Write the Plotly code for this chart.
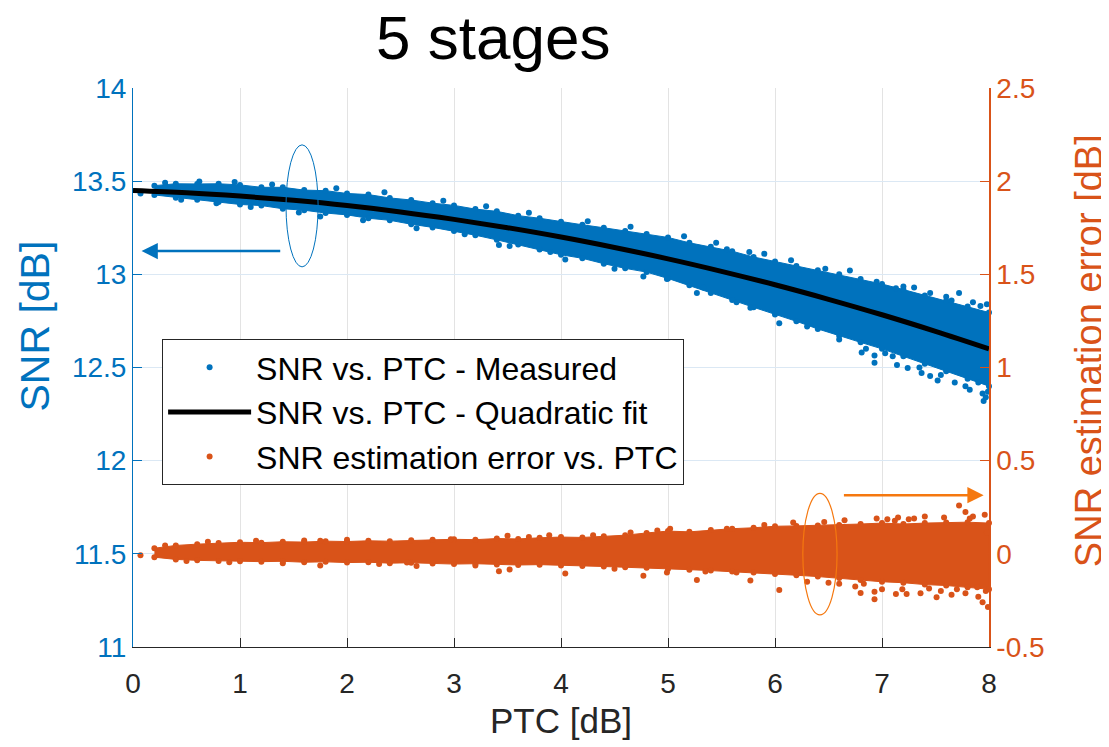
import plotly.graph_objects as go

# ---------------- data ----------------
# envelope positions of the dense point clouds (PTC, dB)
ptc_env = [0.2, 0.4, 0.6, 0.8, 1.0, 1.2, 1.4, 1.6, 1.8, 2.0,
           2.2, 2.4, 2.6, 2.8, 3.0, 3.2, 3.4, 3.6, 3.8, 4.0,
           4.2, 4.4, 4.6, 4.8, 5.0, 5.2, 5.4, 5.6, 5.8, 6.0,
           6.2, 6.4, 6.6, 6.8, 7.0, 7.2, 7.4, 7.6, 7.8, 8.0]

# measured SNR cloud: upper / lower edge of the dense band (dB)
snr_upper = [13.476, 13.486, 13.485, 13.486, 13.480, 13.467, 13.467, 13.452, 13.449, 13.434,
             13.428, 13.410, 13.399, 13.382, 13.370, 13.350, 13.338, 13.315, 13.301, 13.282,
             13.266, 13.250, 13.232, 13.216, 13.198, 13.169, 13.148, 13.124, 13.093, 13.069,
             13.045, 13.022, 13.000, 12.975, 12.948, 12.918, 12.887, 12.858, 12.828, 12.795]
snr_lower = [13.426, 13.411, 13.400, 13.388, 13.375, 13.369, 13.352, 13.344, 13.329, 13.319,
             13.301, 13.290, 13.269, 13.252, 13.233, 13.210, 13.185, 13.160, 13.133, 13.105,
             13.086, 13.057, 13.032, 13.012, 12.978, 12.942, 12.900, 12.862, 12.823, 12.784,
             12.748, 12.707, 12.670, 12.635, 12.600, 12.560, 12.520, 12.480, 12.440, 12.400]

# scattered measured points outside the dense band
snr_pts_x = [0.07, 0.3, 0.45, 0.62, 0.78, 0.95, 1.1, 1.3, 1.55, 1.75,
             1.9, 2.15, 2.35, 2.65, 2.9, 3.1, 3.3, 3.42, 3.52, 3.7,
             3.9, 4.04, 4.25, 4.5, 4.65, 4.77, 4.99, 5.15, 5.27, 5.33,
             5.45, 5.55, 5.64, 5.76, 5.77, 5.9, 6.04, 6.15, 6.3, 6.47,
             6.6, 6.7, 6.81, 6.93, 6.93, 7.03, 7.13, 7.14, 7.24, 7.3,
             7.37, 7.45, 7.52, 7.6, 7.72, 7.78, 7.85, 7.94, 7.95, 7.98,
             7.1, 7.35, 7.55, 7.68, 7.82, 7.9, 7.97, 7.99, 7.65, 7.92,
             6.95, 7.2, 6.85, 7.45]
snr_pts_y = [13.434, 13.492, 13.400, 13.498, 13.382, 13.495, 13.362, 13.482, 13.332, 13.310,
             13.462, 13.290, 13.440, 13.247, 13.395, 13.215, 13.365, 13.157, 13.152, 13.330,
             13.120, 13.080, 13.285, 13.030, 13.255, 12.988, 12.975, 13.205, 12.900, 12.930,
             13.170, 13.134, 12.850, 13.120, 12.820, 13.110, 12.738, 13.075, 12.720, 13.030,
             12.650, 13.020, 12.580, 12.564, 12.525, 12.576, 12.925, 12.513, 12.497, 12.930,
             12.470, 12.900, 12.430, 12.880, 12.900, 12.400, 12.850, 12.360, 12.320, 12.840,
             12.560, 12.500, 12.460, 12.420, 12.380, 12.420, 12.340, 12.370, 12.860, 12.830,
             12.960, 12.935, 12.600, 12.455]

# quadratic fit of SNR vs PTC
fit_x = [0.0, 0.5, 1.0, 1.5, 2.0, 2.5, 3.0, 3.5, 4.0, 4.5, 5.0, 5.5, 6.0, 6.5, 7.0, 7.5, 8.0]
fit_y = [13.450, 13.438, 13.420, 13.397, 13.369, 13.335, 13.295, 13.250, 13.200,
         13.144, 13.083, 13.016, 12.944, 12.866, 12.783, 12.694, 12.600]

# SNR estimation error cloud: upper / lower edge of the dense band (dB)
err_upper = [0.030, 0.045, 0.052, 0.058, 0.062, 0.060, 0.065, 0.063, 0.068, 0.066,
             0.070, 0.068, 0.073, 0.075, 0.078, 0.076, 0.082, 0.080, 0.086, 0.090,
             0.088, 0.095, 0.100, 0.112, 0.122, 0.118, 0.128, 0.135, 0.140, 0.148,
             0.150, 0.152, 0.155, 0.160, 0.165, 0.160, 0.165, 0.168, 0.170, 0.165]
err_lower = [-0.018, -0.030, -0.035, -0.038, -0.040, -0.042, -0.040, -0.045, -0.043, -0.047,
             -0.045, -0.050, -0.048, -0.052, -0.055, -0.053, -0.057, -0.060, -0.058, -0.062,
             -0.065, -0.068, -0.072, -0.075, -0.082, -0.085, -0.090, -0.095, -0.100, -0.108,
             -0.115, -0.122, -0.130, -0.140, -0.150, -0.155, -0.165, -0.170, -0.180, -0.190]

err_pts_x = [0.07, 0.3, 0.5, 0.7, 0.9, 1.15, 1.4, 1.6, 1.75, 1.75,
             2.0, 2.3, 2.56, 2.65, 2.97, 3.2, 3.42, 3.5, 3.52, 3.7,
             3.89, 4.04, 4.3, 4.5, 4.65, 4.77, 4.9, 4.99, 5.02, 5.27,
             5.35, 5.55, 5.64, 5.77, 5.9, 6.04, 6.17, 6.3, 6.46, 6.6,
             6.8, 6.83, 6.93, 6.93, 7.05, 7.12, 7.13, 7.19, 7.23, 7.3,
             7.36, 7.44, 7.51, 7.58, 7.65, 7.72, 7.78, 7.78, 7.85, 7.89,
             7.94, 7.98, 7.99, 6.65, 6.75, 7.0, 7.15, 7.4, 7.55, 7.7,
             7.82, 7.9, 7.96, 7.97, 6.5, 6.95, 7.25]
err_pts_y = [-0.008, 0.045, -0.038, 0.065, -0.045, 0.070, -0.050, 0.072, 0.070, -0.062,
             0.075, -0.055, -0.047, -0.065, 0.078, -0.062, -0.093, 0.097, -0.084, 0.090,
             0.100, -0.105, 0.100, -0.080, 0.115, -0.117, 0.125, -0.100, 0.135, -0.140,
             -0.095, 0.135, -0.100, -0.143, 0.155, -0.194, 0.168, -0.150, 0.171, -0.160,
             -0.210, -0.160, -0.203, -0.244, 0.185, 0.177, -0.215, -0.190, -0.215, 0.190,
             -0.211, -0.186, -0.233, 0.195, -0.220, 0.260, 0.225, -0.211, 0.200, -0.180,
             -0.260, 0.115, -0.285, 0.180, -0.175, -0.190, 0.195, 0.200, -0.200, -0.190,
             0.190, -0.230, 0.210, -0.200, -0.155, 0.190, 0.185]

# tick labels
x_ticks = [0, 1, 2, 3, 4, 5, 6, 7, 8]
snr_ticks = [11, 11.5, 12, 12.5, 13, 13.5, 14]
snr_ticktext = ["11", "11.5", "12", "12.5", "13", "13.5", "14"]
err_ticks = [-0.5, 0, 0.5, 1, 1.5, 2, 2.5]
err_ticktext = ["-0.5", "0", "0.5", "1", "1.5", "2", "2.5"]

# ---------------- styling ----------------
BLUE = "#0072BD"
ORANGE = "#D95319"
ANNOT_ORANGE = "#F5780F"
DARK = "#262626"
FONT = "Liberation Sans, Arial, sans-serif"

fig = go.Figure()

# estimation error (right axis)
fig.add_trace(go.Scatter(
    x=ptc_env + ptc_env[::-1], y=err_upper + err_lower[::-1],
    mode="lines+markers", fill="toself", fillcolor=ORANGE,
    line=dict(color=ORANGE, width=1), marker=dict(color=ORANGE, size=6),
    yaxis="y2", showlegend=False, hoverinfo="skip", cliponaxis=False))
fig.add_trace(go.Scatter(
    x=err_pts_x, y=err_pts_y, mode="markers", yaxis="y2",
    marker=dict(color=ORANGE, size=6), name="SNR estimation error vs. PTC",
    legendrank=3, cliponaxis=False))

# measured SNR (left axis)
fig.add_trace(go.Scatter(
    x=ptc_env + ptc_env[::-1], y=snr_upper + snr_lower[::-1],
    mode="lines+markers", fill="toself", fillcolor=BLUE,
    line=dict(color=BLUE, width=1), marker=dict(color=BLUE, size=6),
    showlegend=False, hoverinfo="skip", cliponaxis=False))
fig.add_trace(go.Scatter(
    x=snr_pts_x, y=snr_pts_y, mode="markers",
    marker=dict(color=BLUE, size=6), name="SNR vs. PTC - Measured",
    legendrank=1, cliponaxis=False))

# quadratic fit
fig.add_trace(go.Scatter(
    x=fit_x, y=fit_y, mode="lines", line=dict(color="black", width=5, shape="spline"),
    name="SNR vs. PTC - Quadratic fit", legendrank=2))

# ellipses
fig.add_shape(type="circle", xref="x", yref="y", x0=1.43, x1=1.73, y0=13.04, y1=13.695,
              line=dict(color=BLUE, width=1))
fig.add_shape(type="circle", xref="x", yref="y2", x0=6.26, x1=6.58, y0=-0.328, y1=0.325,
              line=dict(color=ANNOT_ORANGE, width=1.2))

# arrows
fig.add_annotation(x=0.08, y=13.125, ax=1.39, ay=13.125, xref="x", yref="y",
                   axref="x", ayref="y", text="", showarrow=True, arrowhead=2,
                   arrowsize=1.3, arrowwidth=2.5, arrowcolor=BLUE)
fig.add_annotation(x=7.95, y=0.315, ax=6.63, ay=0.315, xref="x", yref="y2",
                   axref="x", ayref="y2", text="", showarrow=True, arrowhead=2,
                   arrowsize=1.3, arrowwidth=2.5, arrowcolor=ANNOT_ORANGE)

# chart title (as an annotation above the plot area)
fig.add_annotation(text="5 stages", xref="paper", yref="paper", x=0.4206, y=1.09,
                   xanchor="center", yanchor="middle", showarrow=False,
                   font=dict(size=62, color="black", family=FONT))

# axis titles
fig.add_annotation(text="SNR [dB]", xref="paper", yref="paper", x=-0.1145, y=0.575,
                   xanchor="center", yanchor="middle", textangle=-90, showarrow=False,
                   font=dict(size=41, color=BLUE, family=FONT))
fig.add_annotation(text="SNR estimation error [dB]", xref="paper", yref="paper",
                   x=1.1168, y=0.531, xanchor="center", yanchor="middle", textangle=-90,
                   showarrow=False, font=dict(size=38, color=ORANGE, family=FONT))
fig.add_annotation(text="PTC [dB]", xref="paper", yref="paper", x=0.5, y=-0.1306,
                   xanchor="center", yanchor="middle", showarrow=False,
                   font=dict(size=35, color=DARK, family=FONT))

# the page body adds an 8 px offset, so the figure is 8 px smaller than the window
fig.update_layout(
    width=1101, height=739,
    margin=dict(l=125, r=120, t=80, b=100),
    paper_bgcolor="white", plot_bgcolor="white",
    font=dict(family=FONT, size=28, color=DARK),
    xaxis=dict(range=[0, 8], tickvals=x_ticks, showgrid=True, gridcolor="#e3e3e3",
               gridwidth=1, zeroline=False, showline=True, linecolor=DARK, linewidth=1,
               ticks="inside", ticklen=9, tickcolor=DARK, tickfont=dict(size=28, color=DARK),
               ticklabelstandoff=11, automargin=False),
    yaxis=dict(range=[11, 14], tickvals=snr_ticks, ticktext=snr_ticktext,
               showgrid=True, gridcolor="#dbe8f4",
               gridwidth=1, zeroline=False, showline=True, linecolor=BLUE, linewidth=1,
               ticks="inside", ticklen=9, tickcolor=BLUE, tickfont=dict(size=28, color=BLUE),
               automargin=False),
    yaxis2=dict(range=[-0.5, 2.5], tickvals=err_ticks, ticktext=err_ticktext,
                overlaying="y", side="right",
                showgrid=False, zeroline=False, showline=True, linecolor=ORANGE, linewidth=1.5,
                ticks="inside", ticklen=9, tickcolor=ORANGE,
                tickfont=dict(size=28, color=ORANGE), automargin=False),
    legend=dict(x=0.034, y=0.551, xanchor="left", yanchor="top",
                bgcolor="white", bordercolor=DARK, borderwidth=1,
                font=dict(size=32, color="black", family=FONT),
                itemwidth=83, tracegroupgap=0, traceorder="normal"),
    showlegend=True,
)

fig.write_html("out.html")
